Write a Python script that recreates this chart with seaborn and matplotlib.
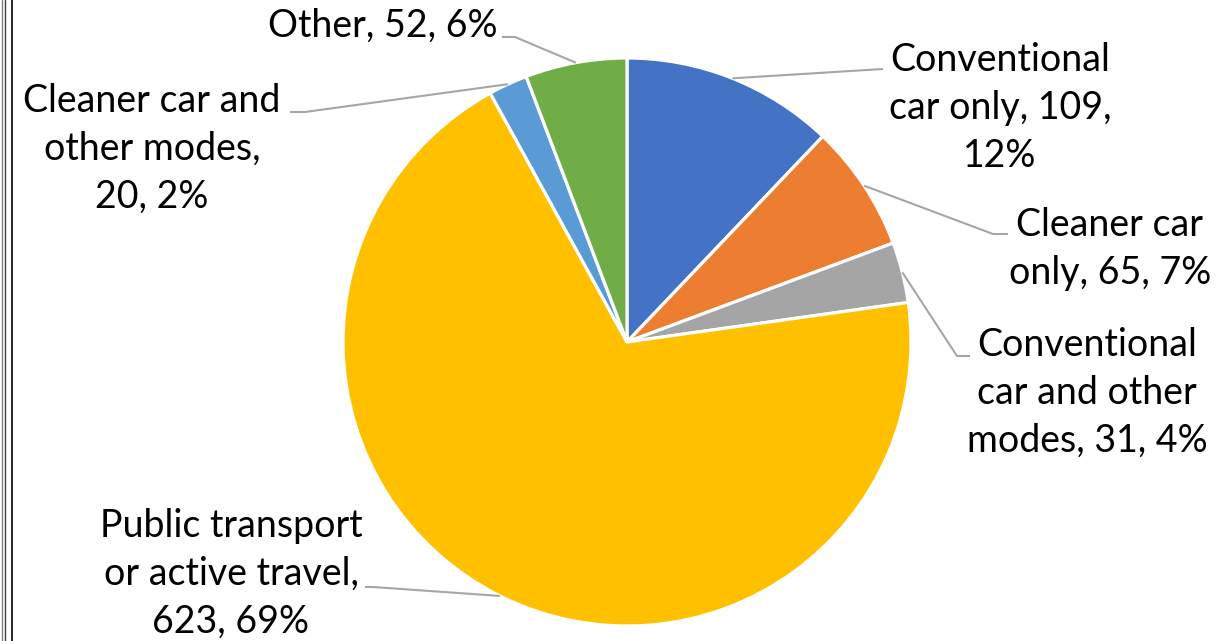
import numpy as np
import matplotlib
matplotlib.use("Agg")
import matplotlib.pyplot as plt
import seaborn as sns

# ---- data ----
categories = ["Conventional car only", "Cleaner car only", "Conventional car and other modes",
              "Public transport or active travel", "Cleaner car and other modes", "Other"]
values = [109, 65, 31, 623, 20, 52]
percents = ["12%", "7%", "4%", "69%", "2%", "6%"]
label_texts = ["Conventional\ncar only, 109,\n12%",
               "Cleaner car\nonly, 65, 7%",
               "Conventional\ncar and other\nmodes, 31, 4%",
               "Public transport\nor active travel,\n623, 69%",
               "Cleaner car and\nother modes,\n20, 2%",
               "Other, 52, 6%"]
colors = ["#4472C4", "#ED7D31", "#A5A5A5", "#FFC000", "#5B9BD5", "#70AD47"]

# ---- layout (pixel coordinates, y measured from top) ----
W, H = 1229, 641
CX, CY, R = 627, 342, 284
label_pos = [(1000, 108), (1110, 249), (1087, 393), (231, 574), (152, 149), (383, 26)]
elbow_pos = [(883, 69), (993, 234), (957, 356), (373, 587), (305, 112), (515, 37)]
end_pos = [(883, 69), (1008, 234), (970, 356), (365, 587), (290, 112), (502, 37)]

sns.set_theme(style="white")
plt.rcParams['font.family'] = ['Lato', 'DejaVu Sans']

fig = plt.figure(figsize=(W / 100, H / 100), dpi=100)
ax = fig.add_axes([0, 0, 1, 1])

def py(y):
    return H - y

wedges, _ = ax.pie(values, colors=colors, startangle=90, counterclock=False,
                   center=(CX, py(CY)), radius=R, frame=True,
                   wedgeprops=dict(edgecolor="white", linewidth=2.3))
ax.set_xlim(0, W)
ax.set_ylim(0, H)
ax.axis("off")

for w, txt, lp, ep, en in zip(wedges, label_texts, label_pos, elbow_pos, end_pos):
    ang = np.deg2rad((w.theta1 + w.theta2) / 2)
    sx = CX + R * np.cos(ang)
    sy = py(CY) + R * np.sin(ang)
    ax.plot([sx, ep[0], en[0]], [sy, py(ep[1]), py(en[1])], color="#A6A6A6", lw=1.5,
            solid_capstyle="butt", zorder=1)
    ax.text(lp[0], py(lp[1]), txt, ha="center", va="center", fontsize=27,
            color="black", linespacing=1.4)

# frame lines on the left
for x, c, lw in [(1.5, "#808080", 1.0), (4.5, "#404040", 1.0), (11.5, "black", 1.2)]:
    fig.add_artist(plt.Line2D([x / W, x / W], [0, 1], color=c, lw=lw, transform=fig.transFigure))

fig.savefig("out.png", dpi=100, facecolor="white")
